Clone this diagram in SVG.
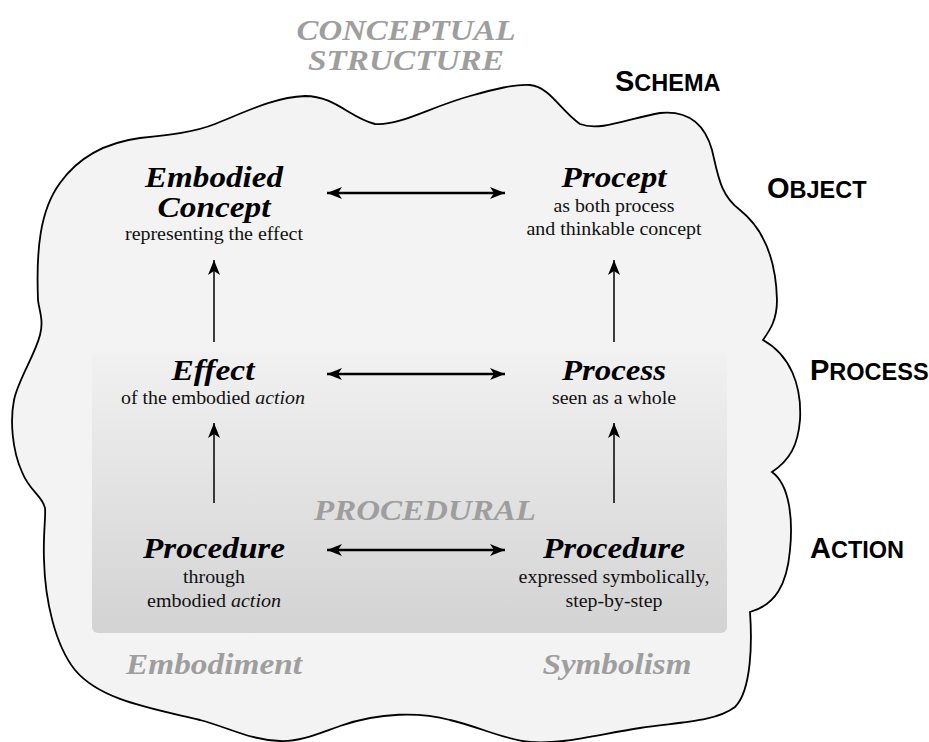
<svg xmlns="http://www.w3.org/2000/svg" width="929" height="742" viewBox="0 0 929 742">
<defs>
<linearGradient id="procGrad" x1="0" y1="0" x2="0" y2="1">
<stop offset="0" stop-color="#f1f1f1"/>
<stop offset="1" stop-color="#d3d3d3"/>
</linearGradient>
<marker id="ah" markerUnits="userSpaceOnUse" markerWidth="20" markerHeight="16" viewBox="-16 -8 18 16" refX="0" refY="0" orient="auto-start-reverse">
<path d="M0,0 L-15,-6 L-11,0 L-15,6 Z" fill="#000"/>
</marker>
<style>
.title{font-family:"Liberation Serif","Times New Roman",serif;font-weight:bold;font-style:italic;font-size:29px;fill:#000;text-anchor:middle}
.gray{font-family:"Liberation Serif","Times New Roman",serif;font-weight:bold;font-style:italic;font-size:29px;fill:#9e9e9e;text-anchor:middle}
.sub{font-family:"Liberation Serif","Times New Roman",serif;font-size:19px;fill:#111;text-anchor:middle}
.it{font-style:italic}
.lvl{font-family:"Liberation Sans",Arial,sans-serif;font-weight:bold;fill:#000}
.big{font-size:29px}
.sm{font-size:23.5px}
.h{stroke:#000;stroke-width:2.4;fill:none}
.v{stroke:#000;stroke-width:1.5;fill:none}
</style>
</defs>
<rect width="929" height="742" fill="#ffffff"/>

<g id="cloud">
<path d="M38,300 C36,250 40,210 60,183 C80,155 110,142 140,138 C170,135 195,132 215,124 C245,112 275,97 305,96 C335,96 350,118 375,124 C400,126 430,107 470,96 C495,89 515,84 530,85 C550,87 560,110 580,124 C600,132 630,118 660,113 C690,110 705,125 712,150 C718,175 720,195 740,210 C765,230 776,260 777,300 C777,320 770,330 763,340 C790,355 802,385 800,420 C798,445 790,460 772,472 C790,485 793,520 790,550 C787,585 775,605 750,612 C752,640 752,690 735,707 C715,722 680,722 640,728 C600,734 560,745 530,742 C505,740 480,727 450,720 C420,712 380,712 340,726 C320,733 300,742 280,741 C250,740 230,728 200,720 C150,708 100,700 75,670 C55,645 45,600 44,560 C43,535 46,515 45,508 C42,495 30,492 22,472 C12,450 10,420 14,400 C18,380 35,355 40,335 C44,320 39,310 38,300 Z" fill="#f3f3f3" stroke="#000" stroke-width="1.8"/>
</g>

<g id="procedural-region">
<rect x="92" y="352" width="635" height="281" rx="6" fill="url(#procGrad)"/>
<text class="gray" x="425" y="520" textLength="222" lengthAdjust="spacingAndGlyphs">PROCEDURAL</text>
</g>

<g id="conceptual-structure">
<text class="gray" x="406" y="40" textLength="219" lengthAdjust="spacingAndGlyphs">CONCEPTUAL</text>
<text class="gray" x="406" y="70" textLength="196" lengthAdjust="spacingAndGlyphs">STRUCTURE</text>
</g>

<g id="level-schema"><text class="lvl" x="615" y="91"><tspan class="big">S</tspan><tspan class="sm">CHEMA</tspan></text></g>
<g id="level-object"><text class="lvl" x="767" y="198"><tspan class="big">O</tspan><tspan class="sm">BJECT</tspan></text></g>
<g id="level-process"><text class="lvl" x="810" y="380"><tspan class="big">P</tspan><tspan class="sm">ROCESS</tspan></text></g>
<g id="level-action"><text class="lvl" x="810" y="558"><tspan class="big">A</tspan><tspan class="sm">CTION</tspan></text></g>

<g id="embodied-concept">
<text class="title" x="214" y="187" textLength="138" lengthAdjust="spacingAndGlyphs">Embodied</text>
<text class="title" x="214" y="217" textLength="113" lengthAdjust="spacingAndGlyphs">Concept</text>
<text class="sub" x="214" y="240" textLength="178" lengthAdjust="spacingAndGlyphs">representing the effect</text>
</g>

<g id="procept">
<text class="title" x="614" y="187" textLength="105" lengthAdjust="spacingAndGlyphs">Procept</text>
<text class="sub" x="614" y="212" textLength="121" lengthAdjust="spacingAndGlyphs">as both process</text>
<text class="sub" x="614" y="235" textLength="175" lengthAdjust="spacingAndGlyphs">and thinkable concept</text>
</g>

<g id="effect">
<text class="title" x="213" y="380" textLength="83" lengthAdjust="spacingAndGlyphs">Effect</text>
<text class="sub" x="213" y="404" textLength="184" lengthAdjust="spacingAndGlyphs">of the embodied <tspan class="it">action</tspan></text>
</g>

<g id="process">
<text class="title" x="614" y="380" textLength="104" lengthAdjust="spacingAndGlyphs">Process</text>
<text class="sub" x="614" y="404" textLength="124" lengthAdjust="spacingAndGlyphs">seen as a whole</text>
</g>

<g id="procedure-embodied">
<text class="title" x="214" y="558" textLength="142" lengthAdjust="spacingAndGlyphs">Procedure</text>
<text class="sub" x="214" y="583" textLength="62" lengthAdjust="spacingAndGlyphs">through</text>
<text class="sub" x="214" y="607" textLength="134" lengthAdjust="spacingAndGlyphs">embodied <tspan class="it">action</tspan></text>
</g>

<g id="procedure-symbolic">
<text class="title" x="614" y="558" textLength="142" lengthAdjust="spacingAndGlyphs">Procedure</text>
<text class="sub" x="614" y="583" textLength="191" lengthAdjust="spacingAndGlyphs">expressed symbolically,</text>
<text class="sub" x="614" y="607" textLength="97" lengthAdjust="spacingAndGlyphs">step-by-step</text>
</g>

<g id="embodiment"><text class="gray" x="214" y="674" textLength="176" lengthAdjust="spacingAndGlyphs">Embodiment</text></g>
<g id="symbolism"><text class="gray" x="617" y="674" textLength="149" lengthAdjust="spacingAndGlyphs">Symbolism</text></g>

<g id="connectors">
<line class="h" x1="327" y1="193" x2="505" y2="193" marker-start="url(#ah)" marker-end="url(#ah)"/>
<line class="h" x1="327" y1="374" x2="505" y2="374" marker-start="url(#ah)" marker-end="url(#ah)"/>
<line class="h" x1="327" y1="550" x2="505" y2="550" marker-start="url(#ah)" marker-end="url(#ah)"/>
<line class="v" x1="214" y1="342" x2="214" y2="260" marker-end="url(#ah)"/>
<line class="v" x1="614" y1="342" x2="614" y2="260" marker-end="url(#ah)"/>
<line class="v" x1="214" y1="503" x2="214" y2="423" marker-end="url(#ah)"/>
<line class="v" x1="614" y1="503" x2="614" y2="423" marker-end="url(#ah)"/>
</g>
</svg>
